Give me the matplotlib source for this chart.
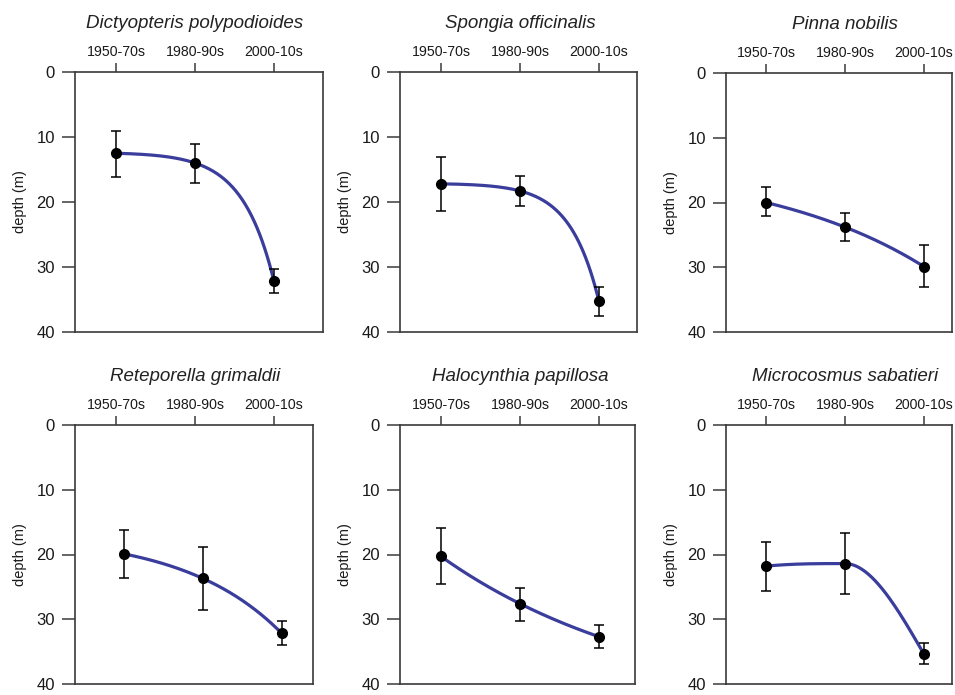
import numpy as np
import matplotlib
matplotlib.use('Agg')
import matplotlib.pyplot as plt
from matplotlib import transforms

plt.rcParams['font.family'] = ['Liberation Sans', 'DejaVu Sans']

periods = ['1950-70s', '1980-90s', '2000-10s']
species = ['Dictyopteris polypodioides', 'Spongia officinalis', 'Pinna nobilis',
           'Reteporella grimaldii', 'Halocynthia papillosa', 'Microcosmus sabatieri']

# mean depth (m) and error bar ends for each species, per period
depth_mean = [[12.5, 14.0, 32.2],
              [17.2, 18.3, 35.3],
              [20.0, 23.8, 29.9],
              [19.9, 23.7, 32.2],
              [20.3, 27.6, 32.7],
              [21.8, 21.4, 35.4]]
depth_top = [[9.0, 11.0, 30.3],
             [13.0, 16.0, 33.0],
             [17.6, 21.6, 26.6],
             [16.2, 18.9, 30.3],
             [15.9, 25.2, 30.9],
             [18.0, 16.7, 33.7]]
depth_bottom = [[16.2, 17.0, 34.0],
                [21.4, 20.6, 37.6],
                [22.1, 26.0, 33.1],
                [23.7, 28.5, 34.0],
                [24.5, 30.2, 34.5],
                [25.7, 26.1, 36.9]]
point_shift = [0, 0, 0, 0.1, 0, 0]

LINE = '#3a3d9c'
SPINE = '#3a3a3a'

# panel boxes in pixels: left, right, top, bottom; first tick x
boxes = [(75, 323, 72, 332, 116), (400, 637, 72, 332, 441), (726, 952, 73, 332, 766),
         (75, 313, 425, 684, 116), (400, 635, 425, 684, 441), (726, 952, 425, 684, 766)]
TICK_STEP = 79.0
W, H = 955, 695


def pchip(x, y, t):
    x = np.asarray(x, float); y = np.asarray(y, float)
    h = np.diff(x); d = np.diff(y) / h
    m = np.zeros(len(x))
    for k in range(1, len(x) - 1):
        if d[k - 1] * d[k] > 0:
            w1 = 2 * h[k] + h[k - 1]; w2 = h[k] + 2 * h[k - 1]
            m[k] = (w1 + w2) / (w1 / d[k - 1] + w2 / d[k])
    for k, (a, b, ha, hb) in [(0, (d[0], d[1], h[0], h[1])), (-1, (d[-1], d[-2], h[-1], h[-2]))]:
        s = ((2 * ha + hb) * a - ha * b) / (ha + hb)
        if s * a <= 0:
            s = 0
        elif a * b <= 0 and abs(s) > abs(3 * a):
            s = 3 * a
        m[k] = s
    out = np.empty_like(t)
    for i, tv in enumerate(t):
        k = min(np.searchsorted(x, tv, side='right') - 1, len(x) - 2)
        k = max(k, 0)
        u = (tv - x[k]) / h[k]
        h00 = 2 * u**3 - 3 * u**2 + 1; h10 = u**3 - 2 * u**2 + u
        h01 = -2 * u**3 + 3 * u**2; h11 = u**3 - u**2
        out[i] = h00 * y[k] + h10 * h[k] * m[k] + h01 * y[k + 1] + h11 * h[k] * m[k + 1]
    return out


def smooth_curve(x, y, n=200):
    t = np.linspace(x[0], x[-1], n)
    d1 = y[1] - y[0]; d2 = y[2] - y[1]
    if d1 * d2 > 0 and abs(d2 - d1) > 1e-6:
        r = d2 / d1
        b = d1 / (r - 1)
        a = y[0] - b
        u = (t - x[0]) / (x[1] - x[0])
        return t, a + b * r**u
    return t, pchip(x, y, t)


fig = plt.figure(figsize=(W / 100, H / 100), dpi=100)

for i, name in enumerate(species):
    left, right, top, bottom, tick0 = boxes[i]
    ax = fig.add_axes([left / W, 1 - bottom / H, (right - left) / W, (bottom - top) / H])
    xs = np.arange(3) + point_shift[i]
    mean = np.array(depth_mean[i])
    yerr = [mean - np.array(depth_top[i]), np.array(depth_bottom[i]) - mean]

    tx, ty = smooth_curve(xs, mean)
    ax.plot(tx, ty, color=LINE, lw=2.3, zorder=2, solid_capstyle='round')
    ax.errorbar(xs, mean, yerr=yerr, fmt='o', color='black', ms=7, elinewidth=1.1,
                capsize=3.6, capthick=1.1, zorder=3)

    ax.set_xlim((left - tick0) / TICK_STEP, (right - tick0) / TICK_STEP)
    ax.set_ylim(40, 0)
    ax.set_yticks([0, 10, 20, 30, 40])
    ax.set_xticks([0, 1, 2])
    ax.set_xticklabels(periods)
    ax.xaxis.tick_top()
    ax.tick_params(axis='x', direction='out', length=6.5, width=1.1, color=SPINE,
                   labelsize=10.2, pad=3, bottom=False, labelcolor='#1a1a1a')
    ax.tick_params(axis='y', direction='out', length=9.5, width=1.1, color=SPINE,
                   labelsize=12, pad=5, right=False, labelcolor='#1a1a1a')
    for sp in ax.spines.values():
        sp.set_color(SPINE)
        sp.set_linewidth(1.2)
    ax.set_ylabel('depth (m)', fontsize=10.5, labelpad=7, color='#1a1a1a')

    trans = transforms.blended_transform_factory(ax.transData, ax.transAxes)
    ax.text(1, 1 + 44 / (bottom - top), name, transform=trans, ha='center', va='baseline',
            fontsize=13.5, style='italic', color='#222222')

fig.savefig('out.png', dpi=100)
